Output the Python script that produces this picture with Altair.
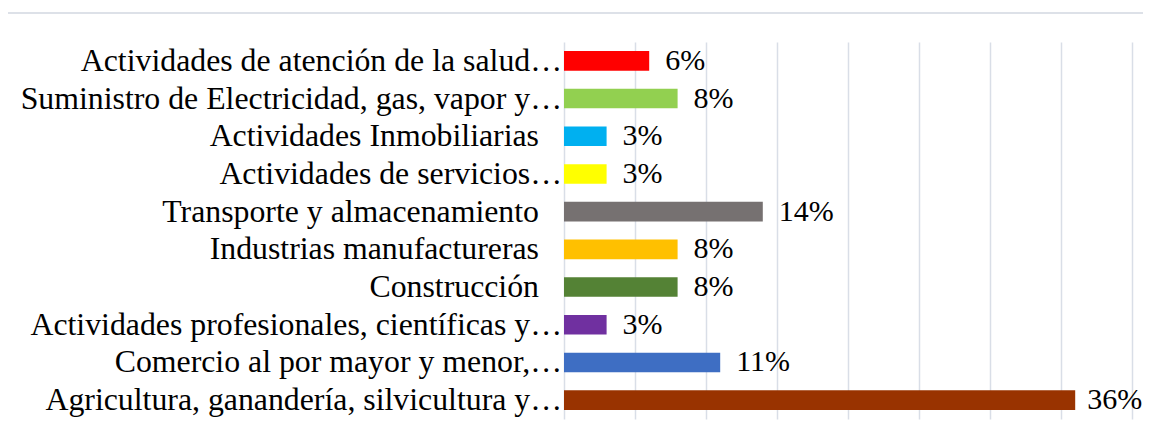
import altair as alt
import pandas as pd

categories = [
    "Actividades de atención de la salud…",
    "Suministro de Electricidad, gas, vapor y…",
    "Actividades Inmobiliarias",
    "Actividades de servicios…",
    "Transporte y almacenamiento",
    "Industrias manufactureras",
    "Construcción",
    "Actividades profesionales, científicas y…",
    "Comercio al por mayor y menor,…",
    "Agricultura, ganandería, silvicultura y…",
]
values = [6, 8, 3, 3, 14, 8, 8, 3, 11, 36]
colors = [
    "#FF0000", "#92D050", "#00B0F0", "#FFFF00", "#767171",
    "#FFC000", "#548235", "#7030A0", "#3E6EC3", "#993300",
]
grid_values = [0, 5, 10, 15, 20, 25, 30, 35, 40]

df = pd.DataFrame({"cat": categories, "val": values})

FONT = "Liberation Serif"
FS = 31.8
FS_VAL = 30

y_enc = alt.Y(
    "cat:N",
    sort=None,
    scale=alt.Scale(domain=categories, paddingInner=0.48, paddingOuter=0.24),
    axis=alt.Axis(title=None, ticks=False, domain=False, grid=False, labels=False),
)

x_scale = alt.Scale(domain=[0, 40], nice=False)

bars = alt.Chart(df).mark_bar().encode(
    y=y_enc,
    x=alt.X(
        "val:Q",
        scale=x_scale,
        axis=alt.Axis(
            values=grid_values, labels=False, ticks=False, domain=False,
            title=None, grid=True, gridColor="#D9DEE7", gridWidth=1.5,
        ),
    ),
    color=alt.Color("cat:N", scale=alt.Scale(domain=categories, range=colors), legend=None),
)

# category labels, right-aligned at the zero line
lab_trunc = alt.Chart(df).transform_filter(
    "indexof(datum.cat, '…') >= 0"
).mark_text(
    align="right", baseline="middle", dx=-2, font=FONT, fontSize=FS, color="black"
).encode(y=alt.Y("cat:N", sort=None), x=alt.datum(0), text="cat:N")

lab_full = alt.Chart(df).transform_filter(
    "indexof(datum.cat, '…') < 0"
).mark_text(
    align="right", baseline="middle", dx=-25, font=FONT, fontSize=FS, color="black"
).encode(y=alt.Y("cat:N", sort=None), x=alt.datum(0), text="cat:N")

# value labels (the longest bar's label sits a little closer so it stays inside the page)
text = alt.Chart(df).transform_calculate(
    lab="datum.val + '%'"
).transform_filter("datum.val < 30").mark_text(
    align="left", baseline="middle", dx=16, font=FONT, fontSize=FS_VAL, color="black"
).encode(
    y=alt.Y("cat:N", sort=None),
    x=alt.X("val:Q"),
    text="lab:N",
)

text_max = alt.Chart(df).transform_calculate(
    lab="datum.val + '%'"
).transform_filter("datum.val >= 30").mark_text(
    align="left", baseline="middle", dx=12, font=FONT, fontSize=FS_VAL, color="black"
).encode(
    y=alt.Y("cat:N", sort=None),
    x=alt.X("val:Q"),
    text="lab:N",
)

frame = alt.Chart(pd.DataFrame({"a": [0]})).mark_rect(
    fill="transparent", stroke="#DDE1E8", strokeWidth=2
).encode(
    x=alt.value(-558), x2=alt.value(700), y=alt.value(-29), y2=alt.value(500)
)

chart = alt.layer(frame, bars, lab_trunc, lab_full, text, text_max).properties(
    width=568,
    height=377,
    autosize=alt.AutoSizeParams(type="none"),
    padding={"left": 556, "top": 34, "right": 11, "bottom": 4},
).configure_view(strokeWidth=0)

chart.save("out.html", embed_options={"renderer": "svg", "actions": False})
